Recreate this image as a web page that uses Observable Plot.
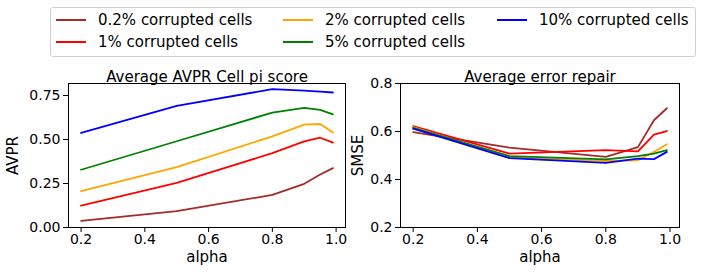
<!DOCTYPE html>
<html>
<head>
<meta charset="utf-8">
<script src="https://cdn.jsdelivr.net/npm/d3@7"></script>
<script src="https://cdn.jsdelivr.net/npm/@observablehq/plot@0.6"></script>
<style>
  html, body { margin: 0; padding: 0; background: #fff; }
  #wrap { position: relative; width: 702px; height: 275px; font-family: "DejaVu Sans", sans-serif; }
  #legend { position: absolute; left: 50px; top: 7px; width: 646px; height: 50px; border: 1px solid #d0d0d0; border-radius: 3px; box-sizing: border-box; background: #fff; }
  .item { position: absolute; font-size: 15px; line-height: 16px; white-space: nowrap; color: #000; }
  .item svg { position: absolute; left: 0; top: 3px; }
  .item span { position: absolute; left: 43px; top: 0; }
  #left, #right { position: absolute; top: 60px; }
  #left { left: 0; }
  #right { left: 350px; }
</style>
</head>
<body>
<div id="wrap">
  <div id="legend"></div>
  <div id="left"></div>
  <div id="right"></div>
</div>
<script>
const alphas = [0.2, 0.5, 0.8, 0.9, 0.95, 0.99];
const seriesNames = ["0.2% corrupted cells", "1% corrupted cells", "2% corrupted cells", "5% corrupted cells", "10% corrupted cells"];
const seriesColors = ["brown", "red", "orange", "green", "blue"];

const avpr02 = [0.038, 0.093, 0.185, 0.248, 0.301, 0.337];
const avpr1  = [0.124, 0.253, 0.422, 0.489, 0.510, 0.482];
const avpr2  = [0.206, 0.343, 0.518, 0.584, 0.588, 0.539];
const avpr5  = [0.328, 0.490, 0.653, 0.679, 0.668, 0.643];
const avpr10 = [0.537, 0.691, 0.786, 0.777, 0.772, 0.767];

const smse02 = [0.597, 0.533, 0.494, 0.535, 0.647, 0.697];
const smse1  = [0.622, 0.508, 0.522, 0.517, 0.587, 0.602];
const smse2  = [0.618, 0.491, 0.477, 0.480, 0.515, 0.547];
const smse5  = [0.615, 0.497, 0.484, 0.497, 0.508, 0.522];
const smse10 = [0.612, 0.489, 0.469, 0.487, 0.485, 0.515];

const xTicks = [0.2, 0.4, 0.6, 0.8, 1.0];
const avprTicks = [0, 0.25, 0.5, 0.75];
const smseTicks = [0.2, 0.4, 0.6, 0.8];

function toRows(arrays) {
  const rows = [];
  arrays.forEach((vals, i) => vals.forEach((v, j) => rows.push({alpha: alphas[j], value: v, series: seriesNames[i]})));
  return rows;
}
const avprRows = toRows([avpr02, avpr1, avpr2, avpr5, avpr10]);
const smseRows = toRows([smse02, smse1, smse2, smse5, smse10]);

const common = {
  style: {fontFamily: "DejaVu Sans, sans-serif", fontSize: "14px", color: "#000", background: "#fff", overflow: "visible"},
};

function chart({rows, width, marginLeft, marginRight, yDomain, yTicks, yFormat, title, ylabel, ylabelDx}) {
  return Plot.plot({
    ...common,
    width, height: 215,
    marginLeft, marginRight, marginTop: 23, marginBottom: 48,
    x: {domain: [0.1605, 1.0295], ticks: xTicks, tickFormat: d3.format(".1f")},
    y: {domain: yDomain, ticks: yTicks, tickFormat: d3.format(yFormat)},
    color: {domain: seriesNames, range: seriesColors},
    marks: [
      Plot.axisX({ticks: xTicks, tickFormat: d3.format(".1f"), tickSize: 5, tickPadding: 2, label: null, fontSize: 14}),
      Plot.axisY({ticks: yTicks, tickFormat: d3.format(yFormat), tickSize: 5, tickPadding: 3, label: null, fontSize: 14}),
      Plot.lineY(rows, {x: "alpha", y: "value", z: "series", stroke: "series", strokeWidth: 1.8}),
      Plot.frame({stroke: "#000", strokeWidth: 1}),
      Plot.text([title], {frameAnchor: "top", dy: -12, fontSize: 15, textAnchor: "middle"}),
      Plot.text(["alpha"], {frameAnchor: "bottom", dy: 34, fontSize: 15, textAnchor: "middle"}),
      Plot.text([ylabel], {frameAnchor: "left", dx: ylabelDx, rotate: -90, fontSize: 15, textAnchor: "middle"})
    ]
  });
}

document.getElementById("left").append(chart({
  rows: avprRows, width: 350, marginLeft: 68, marginRight: 5,
  yDomain: [0, 0.818], yTicks: avprTicks, yFormat: ".2f",
  title: "Average AVPR Cell pi score", ylabel: "AVPR", ylabelDx: -55
}));
document.getElementById("right").append(chart({
  rows: smseRows, width: 352, marginLeft: 50, marginRight: 23,
  yDomain: [0.2, 0.8], yTicks: smseTicks, yFormat: ".1f",
  title: "Average error repair", ylabel: "SMSE", ylabelDx: -42
}));

// legend
const legend = document.getElementById("legend");
const positions = [[4, 4], [4, 26], [231, 4], [231, 26], [445, 4]];
seriesNames.forEach((name, i) => {
  const div = document.createElement("div");
  div.className = "item";
  div.style.left = positions[i][0] + "px";
  div.style.top = positions[i][1] + "px";
  div.innerHTML = `<svg width="32" height="10"><line x1="1" y1="5" x2="31" y2="5" stroke="${seriesColors[i]}" stroke-width="2"/></svg><span>${name}</span>`;
  legend.append(div);
});
</script>
</body>
</html>
